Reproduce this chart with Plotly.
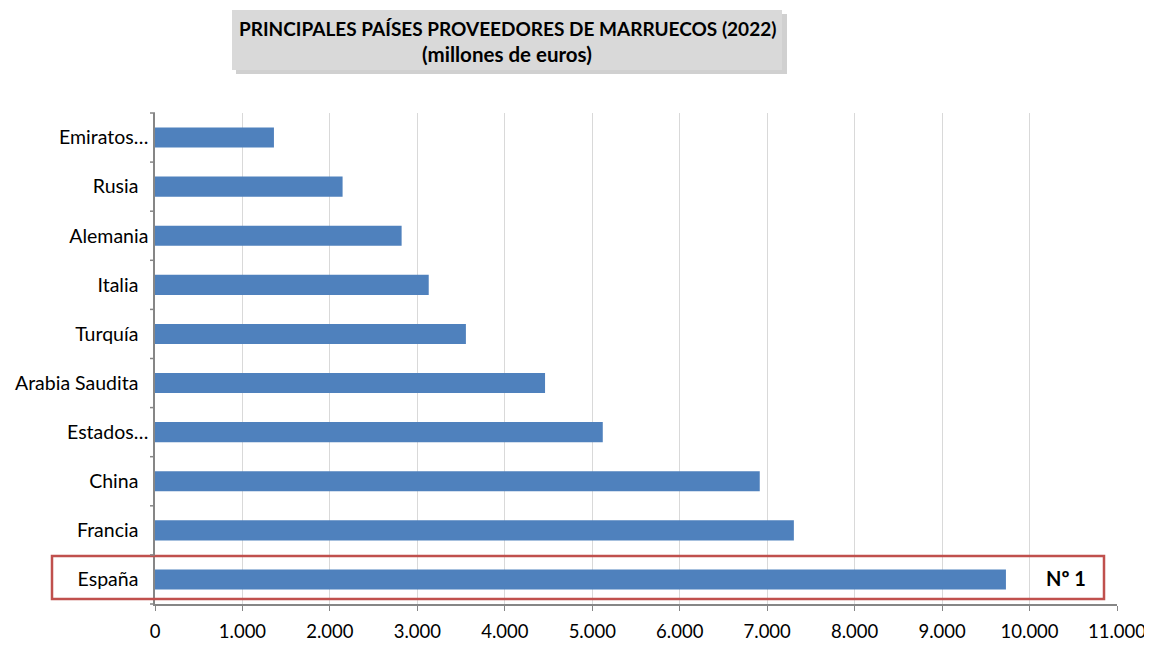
import plotly.graph_objects as go

countries = ["España", "Francia", "China", "Estados…", "Arabia Saudita",
             "Turquía", "Italia", "Alemania", "Rusia", "Emiratos…"]
tick_text = ["España\u00a0\u00a0", "Francia\u00a0\u00a0", "China\u00a0\u00a0", "Estados…",
             "Arabia Saudita\u00a0\u00a0", "Turquía\u00a0\u00a0", "Italia\u00a0\u00a0",
             "Alemania", "Rusia\u00a0\u00a0", "Emiratos…"]
values = [9730, 7305, 6915, 5120, 4460, 3555, 3130, 2820, 2145, 1360]
x_ticks = [0, 1000, 2000, 3000, 4000, 5000, 6000, 7000, 8000, 9000, 10000, 11000]
x_tick_labels = ["0", "1.000", "2.000", "3.000", "4.000", "5.000", "6.000",
                 "7.000", "8.000", "9.000", "10.000", "11.000"]

FONT = "Lato, 'Open Sans', sans-serif"
OFF = 8  # page body margin
W, H = 1152 - OFF, 647 - OFF
L = 155 - OFF
T = 113 - OFF
R = W - (1117 - OFF)
B = H - (604 - OFF)
PW = W - L - R
PH = H - T - B

def px(x):  # screen x -> paper
    return (x - OFF - L) / PW

def py(y):  # screen y -> paper
    return (H - B - (y - OFF)) / PH

fig = go.Figure(go.Bar(
    x=values, y=countries, orientation="h",
    marker=dict(color="#4f81bd", line=dict(width=0)),
))

fig.update_layout(
    width=W, height=H,
    margin=dict(l=L, r=R, t=T, b=B, autoexpand=False),
    paper_bgcolor="white", plot_bgcolor="white",
    bargap=0.59,
    showlegend=False,
    font=dict(family=FONT, size=18, color="#000000"),
    xaxis=dict(
        range=[0, 11000], tickvals=x_ticks, ticktext=x_tick_labels,
        showgrid=True, gridcolor="#d9d9d9", gridwidth=1,
        showline=True, linecolor="#868686", linewidth=1.5,
        ticks="outside", ticklen=5, tickcolor="#868686",
        zeroline=False, tickfont=dict(size=18.5), automargin=False,
        ticklabelstandoff=5,
    ),
    yaxis=dict(
        categoryorder="array", categoryarray=countries,
        tickmode="array", tickvals=countries, ticktext=tick_text,
        showline=True, linecolor="#868686", linewidth=1.5,
        ticks="", showgrid=False, zeroline=False,
        tickfont=dict(size=19.5), ticklabelstandoff=1, automargin=False,
    ),
    shapes=[
        dict(type="rect", xref="paper", yref="paper",
             x0=px(236), x1=px(787), y0=py(74), y1=py(14),
             fillcolor="#b0b0b0", line=dict(width=0), layer="below", opacity=0.6),
        dict(type="rect", xref="paper", yref="paper",
             x0=px(232), x1=px(782), y0=py(70), y1=py(10),
             fillcolor="#d9d9d9", line=dict(width=0), layer="below"),
        dict(type="rect", xref="paper", yref="paper",
             x0=px(52), x1=px(1104), y0=py(599), y1=py(556),
             line=dict(color="#c0504d", width=2.5), fillcolor="rgba(0,0,0,0)"),
    ],
    annotations=[
        dict(text="<b>PRINCIPALES PAÍSES PROVEEDORES DE MARRUECOS (2022)</b>",
             xref="paper", yref="paper", x=px(507), y=py(29),
             xanchor="center", yanchor="middle", showarrow=False,
             font=dict(size=19, family=FONT, color="#000"), align="center"),
        dict(text="<b>(millones de euros)</b>",
             xref="paper", yref="paper", x=px(507), y=py(54),
             xanchor="center", yanchor="middle", showarrow=False,
             font=dict(size=20.5, family=FONT, color="#000"), align="center"),
        dict(text="<b>Nº 1</b>", xref="paper", yref="paper",
             x=px(1066), y=py(578),
             xanchor="center", yanchor="middle", showarrow=False,
             font=dict(size=20, family=FONT, color="#000")),
    ],
)

n = len(countries)
for i in range(n + 1):
    yy = i / n
    fig.add_shape(type="line", xref="paper", yref="paper",
                  x0=-5 / PW, x1=0, y0=yy, y1=yy,
                  line=dict(color="#868686", width=1.5))

fig.write_html("out.html")
